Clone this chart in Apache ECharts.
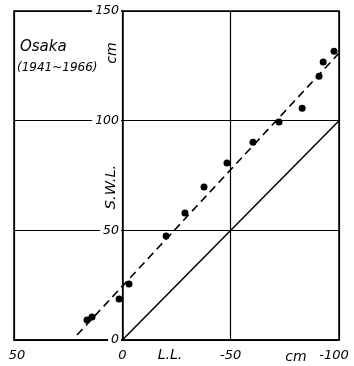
<!DOCTYPE html>
<html>
<head>
<meta charset="utf-8">
<script src="https://cdn.jsdelivr.net/npm/echarts@6/dist/echarts.min.js"></script>
<style>
html,body{margin:0;padding:0;background:#fff;}
#c{width:354px;height:366px;}
</style>
</head>
<body>
<div id="c"></div>
<script>
// L.L. (cm) vs S.W.L. (cm), Osaka 1941~1966
var llValues  = [16.3, 14.0, 1.5, -3.1, -20.2, -28.9, -37.7, -48.3, -60.3, -72.3, -83.0, -90.8, -92.7, -97.7];
var swlValues = [9.1, 10.5, 18.7, 25.5, 47.4, 57.9, 69.7, 80.7, 90.2, 99.4, 105.7, 120.3, 126.7, 131.7];
// regression (dashed) line end points
var fitLL  = [20.9, -100];
var fitSWL = [2.3, 130.8];
// reference line S.W.L. = -L.L.
var refLL  = [0, -100];
var refSWL = [0, 100];
var xTicks = [50, 0, -50, -100];
var yTicks = [0, 50, 100, 150];

var font = 'DejaVu Sans';
var chart = echarts.init(document.getElementById('c'), null, {renderer: 'canvas'});
function pairs(a, b) { return a.map(function (v, i) { return [v, b[i]]; }); }

chart.setOption({
  animation: false,
  backgroundColor: '#fff',
  grid: {left: 14, right: 15, top: 11, bottom: 26, show: true, borderColor: '#000', borderWidth: 1.5, z: 0,
         containLabel: false, outerBoundsMode: 'none'},
  xAxis: {
    type: 'value', inverse: true, min: -100, max: 50, interval: 50,
    axisLine: {onZero: false, lineStyle: {color: '#000', width: 1.5}},
    axisTick: {show: false},
    splitLine: {show: true, lineStyle: {color: '#000', width: 1.2}},
    axisLabel: {
      color: '#000', fontFamily: font, fontStyle: 'italic', fontSize: 13, margin: 9,
      formatter: function (v) {
        if (xTicks.indexOf(v) < 0) return '';
        return v === -100 ? '{r|' + v + '}' : (v === 50 ? '{l|' + v + '}' : String(v));
      },
      rich: {
        r: {fontFamily: font, fontStyle: 'italic', fontSize: 13, color: '#000', padding: [0, 10, 0, 0]},
        l: {fontFamily: font, fontStyle: 'italic', fontSize: 13, color: '#000', padding: [0, 0, 0, 6]}
      }
    }
  },
  yAxis: {
    type: 'value', min: 0, max: 150, interval: 50, z: 5,
    position: 'left', offset: -109,
    axisLine: {onZero: false, lineStyle: {color: '#000', width: 1.5}},
    axisTick: {show: false},
    splitLine: {show: true, lineStyle: {color: '#000', width: 1.2}},
    axisLabel: {
      color: '#000', fontFamily: font, fontStyle: 'italic', fontSize: 12.5, margin: 2,
      backgroundColor: '#fff', padding: [1, 2, 1, 3],
      formatter: function (v) { return yTicks.indexOf(v) >= 0 ? String(v) : ''; }
    }
  },
  series: [
    {type: 'line', data: pairs(refLL, refSWL), symbol: 'none', lineStyle: {color: '#000', width: 1.5}, z: 3},
    {type: 'line', data: pairs(fitLL, fitSWL), symbol: 'none', lineStyle: {color: '#000', width: 1.6, type: [8, 5]}, z: 3},
    {type: 'scatter', data: pairs(llValues, swlValues), symbol: 'circle', symbolSize: 7, itemStyle: {color: '#000', opacity: 1}, z: 4}
  ],
  graphic: [
    {type: 'text', left: 20, top: 40, style: {text: 'Osaka', font: 'italic 15px DejaVu Sans', fill: '#000'}},
    {type: 'text', left: 17, top: 62, style: {text: '(1941~1966)', font: 'italic 12px DejaVu Sans', fill: '#000'}},
    {type: 'text', x: 112, y: 53, rotation: Math.PI / 2, style: {text: 'cm', font: 'italic 14px DejaVu Sans', fill: '#000', align: 'center', verticalAlign: 'middle'}},
    {type: 'text', x: 111, y: 187, rotation: Math.PI / 2, style: {text: 'S.W.L.', font: 'italic 14.5px DejaVu Sans', fill: '#000', align: 'center', verticalAlign: 'middle'}},
    {type: 'text', x: 170, y: 355, style: {text: 'L.L.', font: 'italic 14px DejaVu Sans', fill: '#000', align: 'center', verticalAlign: 'middle'}},
    {type: 'text', x: 296, y: 357, style: {text: 'cm', font: 'italic 14px DejaVu Sans', fill: '#000', align: 'center', verticalAlign: 'middle'}}
  ]
});
</script>
</body>
</html>
